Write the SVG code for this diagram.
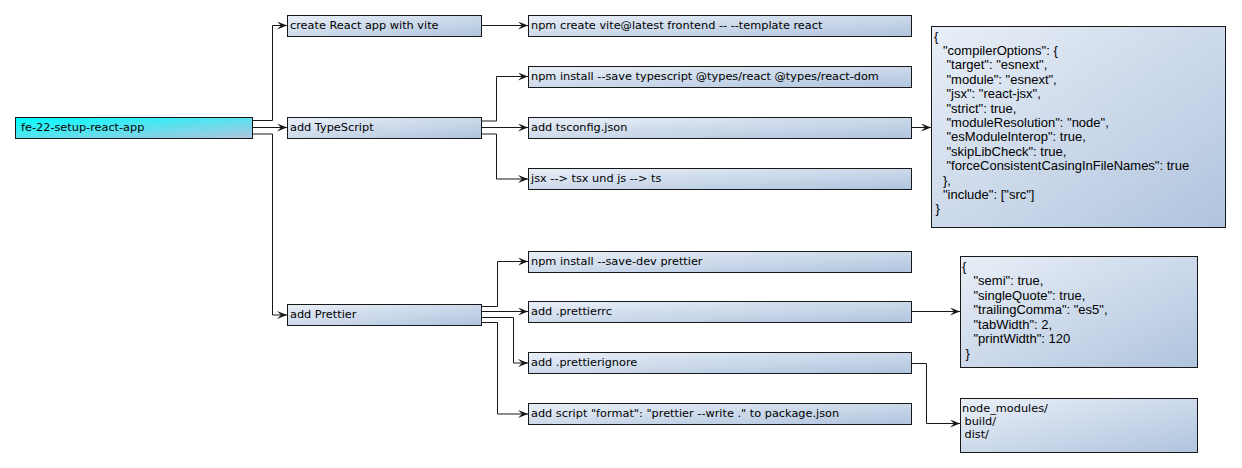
<svg xmlns="http://www.w3.org/2000/svg" width="1242" height="468" viewBox="0 0 1242 468">
<defs>
<linearGradient id="gRoot" x1="0" y1="0" x2="1" y2="1">
<stop offset="0" stop-color="#00FFFF"/>
<stop offset="1" stop-color="#B0C4DE"/>
</linearGradient>
<linearGradient id="gNode" x1="0" y1="0" x2="1" y2="1">
<stop offset="0" stop-color="#E9EFF7"/>
<stop offset="1" stop-color="#B0C4DE"/>
</linearGradient>
<marker id="arr" viewBox="0 0 10 8" refX="10" refY="4" markerWidth="10" markerHeight="8" orient="auto" markerUnits="userSpaceOnUse">
<path d="M0,0 L10,4 L0,8 L4,4 Z" fill="#181818"/>
</marker>
<style>
.box{fill:url(#gNode);stroke:#181818;stroke-width:1}
.root{fill:url(#gRoot);stroke:#181818;stroke-width:1}
.lbl{font-family:"DejaVu Sans",sans-serif;font-size:11.3px;fill:#000}
.json{font-family:"Liberation Sans",Arial,sans-serif;font-size:13px;fill:#000}
.conn path{fill:none;stroke:#181818;stroke-width:1}
.conn .a{marker-end:url(#arr)}
</style>
</defs>
<rect width="1242" height="468" fill="#FFFFFF"/>

<g id="connectors" class="conn">
<path class="a" d="M252.5,120.5 H272.5 V25.5 H287"/>
<path class="a" d="M252.5,127.5 H287"/>
<path class="a" d="M252.5,134 H272.5 V315 H287"/>
<path class="a" d="M481.5,25.5 H528"/>
<path class="a" d="M481.5,121 H496.5 V76.5 H528"/>
<path class="a" d="M481.5,127.5 H528"/>
<path class="a" d="M481.5,134 H496.5 V179 H528"/>
<path class="a" d="M911.5,127.5 H931"/>
<path class="a" d="M481.5,306.5 H497.5 V261.5 H528"/>
<path class="a" d="M481.5,311.5 H528"/>
<path class="a" d="M481.5,317.5 H513.5 V363 H528"/>
<path class="a" d="M481.5,322.5 H497.5 V414 H528"/>
<path class="a" d="M911.5,311.5 H960"/>
<path class="a" d="M911.5,363.5 H926.5 V423.5 H960"/>
</g>

<g id="root">
<rect class="root" x="15.5" y="117.5" width="237" height="21"/>
<text class="lbl" x="21" y="131">fe-22-setup-react-app</text>
</g>

<g id="create-react-app">
<rect class="box" x="287.5" y="15.5" width="194" height="21"/>
<text class="lbl" x="290" y="29">create React app with vite</text>
</g>
<g id="npm-create">
<rect class="box" x="528.5" y="15.5" width="383" height="21"/>
<text class="lbl" x="531" y="29">npm create vite@latest frontend -- --template react</text>
</g>

<g id="add-typescript">
<rect class="box" x="287.5" y="117.5" width="194" height="21"/>
<text class="lbl" x="290" y="131">add TypeScript</text>
</g>
<g id="npm-install-ts">
<rect class="box" x="528.5" y="66.5" width="383" height="21"/>
<text class="lbl" x="531" y="80">npm install --save typescript @types/react @types/react-dom</text>
</g>
<g id="add-tsconfig">
<rect class="box" x="528.5" y="117.5" width="383" height="21"/>
<text class="lbl" x="531" y="131">add tsconfig.json</text>
</g>
<g id="jsx-tsx">
<rect class="box" x="528.5" y="168.5" width="383" height="21"/>
<text class="lbl" x="531" y="182">jsx --&gt; tsx und js --&gt; ts</text>
</g>
<g id="tsconfig-json">
<rect class="box" x="931.5" y="26.5" width="294" height="201"/>
<text class="json" x="934" y="40.6">{</text>
<text class="json" x="943" y="55">"compilerOptions": {</text>
<text class="json" x="946.5" y="69.4">"target": "esnext",</text>
<text class="json" x="946.5" y="83.8">"module": "esnext",</text>
<text class="json" x="946.5" y="98.2">"jsx": "react-jsx",</text>
<text class="json" x="946.5" y="112.6">"strict": true,</text>
<text class="json" x="946.5" y="127">"moduleResolution": "node",</text>
<text class="json" x="946.5" y="141.4">"esModuleInterop": true,</text>
<text class="json" x="946.5" y="155.8">"skipLibCheck": true,</text>
<text class="json" x="946.5" y="170.2">"forceConsistentCasingInFileNames": true</text>
<text class="json" x="943" y="184.6">},</text>
<text class="json" x="943" y="199">"include": ["src"]</text>
<text class="json" x="935.5" y="213.4">}</text>
</g>

<g id="add-prettier">
<rect class="box" x="287.5" y="304.5" width="194" height="21"/>
<text class="lbl" x="290" y="318">add Prettier</text>
</g>
<g id="npm-install-prettier">
<rect class="box" x="528.5" y="251.5" width="383" height="21"/>
<text class="lbl" x="531" y="265">npm install --save-dev prettier</text>
</g>
<g id="add-prettierrc">
<rect class="box" x="528.5" y="301.5" width="383" height="21"/>
<text class="lbl" x="531" y="315">add .prettierrc</text>
</g>
<g id="add-prettierignore">
<rect class="box" x="528.5" y="352.5" width="383" height="21"/>
<text class="lbl" x="531" y="366">add .prettierignore</text>
</g>
<g id="add-script">
<rect class="box" x="528.5" y="403.5" width="383" height="21"/>
<text class="lbl" x="531" y="417">add script "format": "prettier --write ." to package.json</text>
</g>
<g id="prettierrc-json">
<rect class="box" x="960.5" y="256.5" width="237" height="111"/>
<text class="json" x="962" y="270.5">{</text>
<text class="json" x="973.5" y="285">"semi": true,</text>
<text class="json" x="973.5" y="299.5">"singleQuote": true,</text>
<text class="json" x="973.5" y="314">"trailingComma": "es5",</text>
<text class="json" x="973.5" y="328.5">"tabWidth": 2,</text>
<text class="json" x="973.5" y="343">"printWidth": 120</text>
<text class="json" x="965.5" y="357.5">}</text>
</g>
<g id="prettierignore-content">
<rect class="box" x="960.5" y="398.5" width="237" height="54"/>
<text class="lbl" x="962" y="412">node_modules/</text>
<text class="lbl" x="964.5" y="424.8">build/</text>
<text class="lbl" x="964.5" y="437.5">dist/</text>
</g>
</svg>
